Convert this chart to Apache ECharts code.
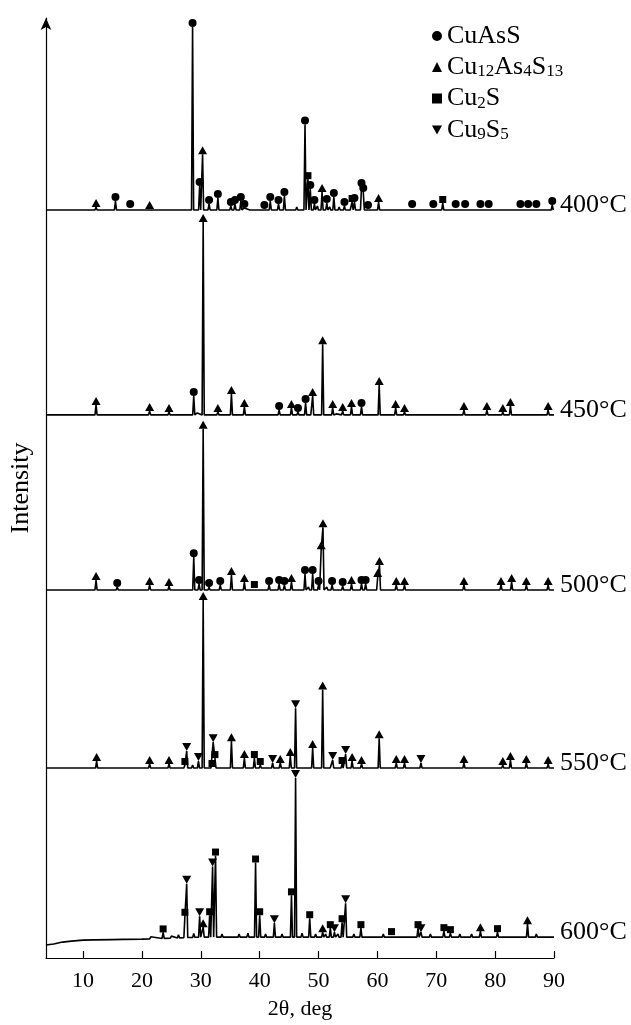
<!DOCTYPE html>
<html>
<head>
<meta charset="utf-8">
<script src="https://cdn.jsdelivr.net/npm/echarts@6/dist/echarts.min.js"></script>
<style>
  html, body { margin: 0; padding: 0; background: #fff; }
  #chart { width: 631px; height: 1025px; }
</style>
</head>
<body>
<div id="chart"></div>
<script>
// Phases identified in the diffraction patterns (marker order: ●, ▲, ■, ▼)
const phaseNames = ['CuAsS', 'Cu12As4S13', 'Cu2S', 'Cu9S5'];
// Roasting temperatures, top to bottom
const temperatures = ['400°C', '450°C', '500°C', '550°C', '600°C'];
// Vertical offset of each stacked pattern (intensity units)
const baselines = [752, 546, 370, 191, 21];
// Rising background of the 600°C pattern at low angles: [2θ, level]
const background600 = [[3.7, 13], [5, 14], [6.5, 16], [8, 17], [10, 18], [15, 18.5], [20, 19], [25, 20], [30, 21], [90, 21]];
const xTicks = [10, 20, 30, 40, 50, 60, 70, 80, 90];

// Reflections: [2θ, intensity above baseline, phase index (-1 = unassigned)]
const peaks400 = [
  [12.2, 3, 1], [15.5, 9, 0], [18.0, 2, 0], [21.3, 1, 1], [28.6, 184, 0], [29.8, 24, 0],
  [30.3, 56, 1], [31.4, 6, 0], [32.9, 12, 0], [35.1, 4, 0], [35.8, 6, 0], [36.8, 9, 0],
  [37.4, 2, 0], [40.8, 1, 0], [41.8, 9, 0], [43.2, 6, 0], [44.2, 14, 0], [47.7, 86, 0],
  [48.2, 31, 2], [48.6, 21, 0], [49.3, 6, 0], [50.6, 18, 1], [51.4, 7, 0], [52.6, 13, 0],
  [54.4, 4, 0], [55.7, 8, 2], [56.1, 8, 0], [57.3, 23, 0], [57.6, 18, 0], [58.4, 1, 0],
  [60.2, 8, 1], [65.9, 2, 0], [69.5, 2, 0], [71.1, 7, 2], [73.3, 2, 0], [74.9, 2, 0],
  [77.5, 2, 0], [78.9, 2, 0], [84.3, 2, 0], [85.6, 2, 0], [87.0, 2, 0], [89.7, 5, 0],
  [6.0, 1, -1], [8.8, 1, -1], [10.5, 1, -1], [14.0, 1, -1], [23.5, 1, -1], [26.0, 1, -1],
  [27.8, 2, -1], [33.8, 2, -1], [38.5, 2, -1], [39.5, 1, -1], [42.5, 2, -1], [45.0, 2, -1],
  [46.3, 3, -1], [49.8, 4, -1], [51.9, 3, -1], [53.5, 3, -1], [55.2, 2, -1], [59.3, 2, -1],
  [61.5, 1, -1], [63.5, 1, -1], [67.5, 1, -1], [72.0, 1, -1], [76.0, 1, -1], [80.5, 1, -1],
  [82.0, 1, -1], [88.0, 1, -1]
];
const peaks450 = [
  [12.2, 10, 1], [21.3, 4, 1], [24.6, 3, 1], [28.8, 19, 0], [30.4, 194, 1], [32.9, 3, 1],
  [35.2, 21, 1], [37.4, 8, 1], [43.3, 5, 0], [45.4, 7, 1], [46.5, 3, 0], [47.8, 12, 0],
  [49.0, 19, 1], [50.7, 71, 1], [52.4, 7, 1], [54.1, 4, 1], [55.6, 8, 1], [57.3, 8, 0],
  [60.3, 30, 1], [63.1, 7, 1], [64.6, 3, 1], [74.7, 5, 1], [78.6, 5, 1], [81.3, 3, 1],
  [82.6, 9, 1], [89.0, 5, 1],
  [7.0, 1, -1], [9.5, 1, -1], [16.0, 1, -1], [19.0, 1, -1], [26.0, 1, -1], [27.5, 1, -1],
  [29.4, 2, -1], [31.3, 2, -1], [34.0, 1, -1], [39.0, 1, -1], [41.0, 1, -1], [44.2, 1, -1],
  [48.5, 2, -1], [51.5, 2, -1], [53.0, 1, -1], [58.5, 1, -1], [62.0, 1, -1], [66.0, 1, -1],
  [68.0, 1, -1], [70.0, 1, -1], [72.0, 1, -1], [76.0, 1, -1], [80.0, 1, -1], [84.0, 1, -1],
  [86.0, 1, -1], [88.0, 1, -1]
];
const peaks500 = [
  [12.2, 10, 1], [15.8, 3, 0], [21.3, 5, 1], [24.6, 4, 1], [28.8, 33, 0], [29.7, 6, 0],
  [30.4, 162, 1], [31.4, 3, 0], [33.3, 5, 0], [35.2, 15, 1], [37.4, 8, 1], [39.1, 2, 2],
  [41.6, 5, 0], [43.3, 6, 0], [44.2, 5, 0], [45.4, 8, 1], [47.7, 16, 0], [49.0, 16, 0],
  [50.0, 5, 0], [50.45, 41, 1], [50.75, 63, 1], [52.3, 5, 0], [54.1, 4, 0], [55.6, 6, 1],
  [57.3, 6, 0], [58.0, 6, 0], [60.05, 13, 1], [60.35, 25, 1], [63.2, 5, 1], [64.6, 5, 1],
  [74.7, 5, 1], [81.0, 5, 1], [82.8, 8, 1], [85.3, 5, 1], [89.0, 5, 1],
  [6.5, 1, -1], [9.0, 1, -1], [18.5, 1, -1], [26.5, 2, -1], [27.9, 2, -1], [32.3, 2, -1],
  [34.2, 2, -1], [38.3, 1, -1], [40.3, 2, -1], [42.5, 2, -1], [46.5, 2, -1], [48.3, 3, -1],
  [51.4, 3, -1], [53.2, 2, -1], [56.5, 2, -1], [59.0, 2, -1], [62.0, 1, -1], [66.5, 1, -1],
  [69.0, 1, -1], [71.5, 1, -1], [77.0, 1, -1], [79.5, 1, -1], [84.0, 1, -1], [87.0, 1, -1]
];
const peaks550 = [
  [12.3, 7, 1], [21.3, 4, 1], [24.6, 4, 1], [27.3, 3, 2], [27.6, 17, 3], [29.6, 7, 3],
  [30.4, 169, 1], [31.9, 1, 2], [32.1, 26, 3], [32.4, 10, 2], [35.2, 27, 1], [37.4, 10, 1],
  [39.1, 10, 2], [40.1, 3, 2], [42.2, 5, 3], [43.5, 5, 1], [45.2, 12, 1], [46.1, 60, 3],
  [49.0, 20, 1], [50.7, 79, 1], [52.4, 8, 3], [54.0, 4, 2], [54.6, 14, 3], [55.7, 7, 1],
  [57.3, 4, 1], [60.3, 30, 1], [63.2, 5, 1], [64.6, 5, 1], [67.4, 5, 3], [74.7, 5, 1],
  [81.3, 3, 1], [82.6, 8, 1], [85.3, 5, 1], [89.0, 4, 1],
  [5.5, 1, -1], [8.0, 1, -1], [10.5, 1, -1], [15.0, 1, -1], [18.0, 1, -1], [23.0, 1, -1],
  [26.0, 2, -1], [28.6, 3, -1], [33.5, 2, -1], [36.3, 2, -1], [38.3, 2, -1], [41.0, 2, -1],
  [44.3, 2, -1], [47.5, 2, -1], [51.8, 2, -1], [53.3, 2, -1], [56.4, 2, -1], [58.7, 1, -1],
  [62.0, 1, -1], [66.0, 1, -1], [70.0, 1, -1], [72.5, 1, -1], [77.0, 1, -1], [79.5, 1, -1],
  [84.0, 1, -1], [87.0, 1, -1]
];
const peaks600 = [
  [23.6, 6, 2], [27.3, 22, 2], [27.6, 54, 3], [29.8, 21, 3], [30.4, 10, 1], [31.5, 22, 2],
  [32.0, 71, 3], [32.5, 82, 2], [39.3, 75, 2], [40.0, 22, 2], [42.5, 14, 3], [45.4, 42, 2],
  [46.1, 160, 3], [48.5, 19, 2], [50.7, 5, 1], [52.0, 9, 2], [52.7, 5, 3], [54.0, 15, 2],
  [54.6, 34, 3], [57.2, 9, 2], [62.4, 2, 2], [66.9, 9, 2], [67.4, 5, 3], [71.3, 6, 2],
  [72.4, 4, 2], [77.5, 6, 1], [80.4, 5, 2], [85.5, 13, 1],
  [12.0, 1, -1], [17.0, 1, -1], [21.5, 2, -1], [25.0, 2, -1], [26.2, 3, -1], [28.8, 4, -1],
  [33.6, 3, -1], [35.0, 2, -1], [36.5, 3, -1], [38.0, 4, -1], [41.0, 3, -1], [43.8, 3, -1],
  [47.2, 4, -1], [49.5, 3, -1], [51.2, 3, -1], [53.3, 3, -1], [56.0, 3, -1], [59.0, 2, -1],
  [61.0, 3, -1], [64.0, 2, -1], [69.0, 3, -1], [74.0, 3, -1], [76.0, 3, -1], [79.0, 2, -1],
  [83.0, 2, -1], [87.0, 3, -1]
];

const X_MIN = 3.7;
const X_MAX = 90;
const HALF_WIDTH = 0.18; // half base width of a drawn reflection, degrees
const FONT = "'Liberation Serif', 'Times New Roman', serif";
const INK = '#000';

const patterns = [
  { peaks: peaks400, bg: null },
  { peaks: peaks450, bg: null },
  { peaks: peaks500, bg: null },
  { peaks: peaks550, bg: null },
  { peaks: peaks600, bg: background600 }
];

// Baseline level of pattern i at angle x
function baseAt(i, x) {
  const bg = patterns[i].bg;
  if (!bg) return baselines[i];
  for (let k = 1; k < bg.length; k++) {
    if (x <= bg[k][0]) {
      const [x0, y0] = bg[k - 1], [x1, y1] = bg[k];
      return y0 + (y1 - y0) * (x - x0) / (x1 - x0);
    }
  }
  return bg[bg.length - 1][1];
}

// Stick profile: every reflection drawn as a narrow spike on its baseline
function profile(i) {
  const peaks = patterns[i].peaks.slice().sort((a, b) => a[0] - b[0]);
  const pts = [];
  const bgPts = (patterns[i].bg || [[X_MIN, 0], [X_MAX, 0]]).map(p => p[0])
    .filter(x => !peaks.some(p => Math.abs(p[0] - x) <= HALF_WIDTH));
  bgPts.forEach(x => pts.push({ x, y: baseAt(i, x) }));
  peaks.forEach((p, k) => {
    const prev = peaks[k - 1], next = peaks[k + 1];
    if (!prev || prev[0] + HALF_WIDTH < p[0] - HALF_WIDTH) pts.push({ x: p[0] - HALF_WIDTH, y: baseAt(i, p[0] - HALF_WIDTH) });
    pts.push({ x: p[0], y: baseAt(i, p[0]) + p[1] });
    if (!next || p[0] + HALF_WIDTH < next[0] - HALF_WIDTH) pts.push({ x: p[0] + HALF_WIDTH, y: baseAt(i, p[0] + HALF_WIDTH) });
  });
  pts.sort((a, b) => a.x - b.x);
  return pts.map(p => [p.x, p.y]);
}

// Marker shapes per phase; Cu9S5 uses a downward-pointing triangle
const symbols = [
  { symbol: 'circle', size: 8 },
  { symbol: 'triangle', size: [9, 8] },
  { symbol: 'rect', size: 7 },
  { symbol: 'path://M0,0 L10,0 L5,9 Z', size: [9, 8] }
];

const lineSeries = temperatures.map((name, i) => ({
  name,
  type: 'line',
  data: profile(i),
  symbol: 'none',
  silent: true,
  z: 2,
  lineStyle: { color: INK, width: 1.6 },
  endLabel: {
    show: true,
    formatter: '{a}',
    distance: 6,
    offset: [0, -5],
    color: INK,
    fontFamily: FONT,
    fontSize: 26
  }
}));

const markerSeries = phaseNames.map((name, ph) => {
  const data = [];
  patterns.forEach((pat, i) => {
    pat.peaks.forEach(p => {
      if (p[2] === ph) data.push([p[0], baseAt(i, p[0]) + p[1]]);
    });
  });
  return {
    name,
    type: 'scatter',
    data,
    symbol: symbols[ph].symbol,
    symbolSize: symbols[ph].size,
    symbolOffset: [0, '-50%'],
    itemStyle: { color: INK, opacity: 1 },
    silent: true,
    z: 3
  };
});

const chart = echarts.init(document.getElementById('chart'), null, { renderer: 'canvas' });
chart.setOption({
  animation: false,
  backgroundColor: '#fff',
  grid: { left: 42, right: 77, top: 18, bottom: 62 },
  legend: {
    orient: 'vertical',
    left: 427,
    top: 18,
    itemWidth: 10,
    itemHeight: 10,
    itemGap: 5,
    data: phaseNames,
    itemStyle: { opacity: 1 },
    formatter: name => name.replace(/(\d+)|(\D+)/g, (m, d, t) => d ? '{s|' + d + '}' : '{n|' + t + '}'),
    textStyle: {
      color: INK,
      fontFamily: FONT,
      rich: {
        n: { fontSize: 26, fontFamily: FONT, color: INK, lineHeight: 27 },
        s: { fontSize: 17, fontFamily: FONT, color: INK, lineHeight: 14, verticalAlign: 'bottom' }
      }
    }
  },
  xAxis: {
    type: 'value',
    min: X_MIN,
    max: X_MAX,
    name: '2θ, deg',
    nameLocation: 'middle',
    nameGap: 40,
    nameTextStyle: { fontFamily: FONT, fontSize: 22, color: INK },
    axisLine: { lineStyle: { color: INK, width: 1.2 } },
    axisTick: { inside: true, length: 7, customValues: xTicks, lineStyle: { color: INK, width: 1.2 } },
    axisLabel: { customValues: xTicks, margin: 12, fontFamily: FONT, fontSize: 22, color: INK },
    splitLine: { show: false }
  },
  yAxis: {
    type: 'value',
    min: 0,
    max: 945,
    name: 'Intensity',
    nameLocation: 'middle',
    nameGap: 12,
    nameTextStyle: { fontFamily: FONT, fontSize: 26, color: INK },
    axisLine: { show: true, symbol: ['none', 'arrow'], symbolSize: [8, 12], lineStyle: { color: INK, width: 1.2 } },
    axisTick: { show: false },
    axisLabel: { show: false },
    splitLine: { show: false }
  },
  series: [...lineSeries, ...markerSeries]
});
</script>
</body>
</html>
